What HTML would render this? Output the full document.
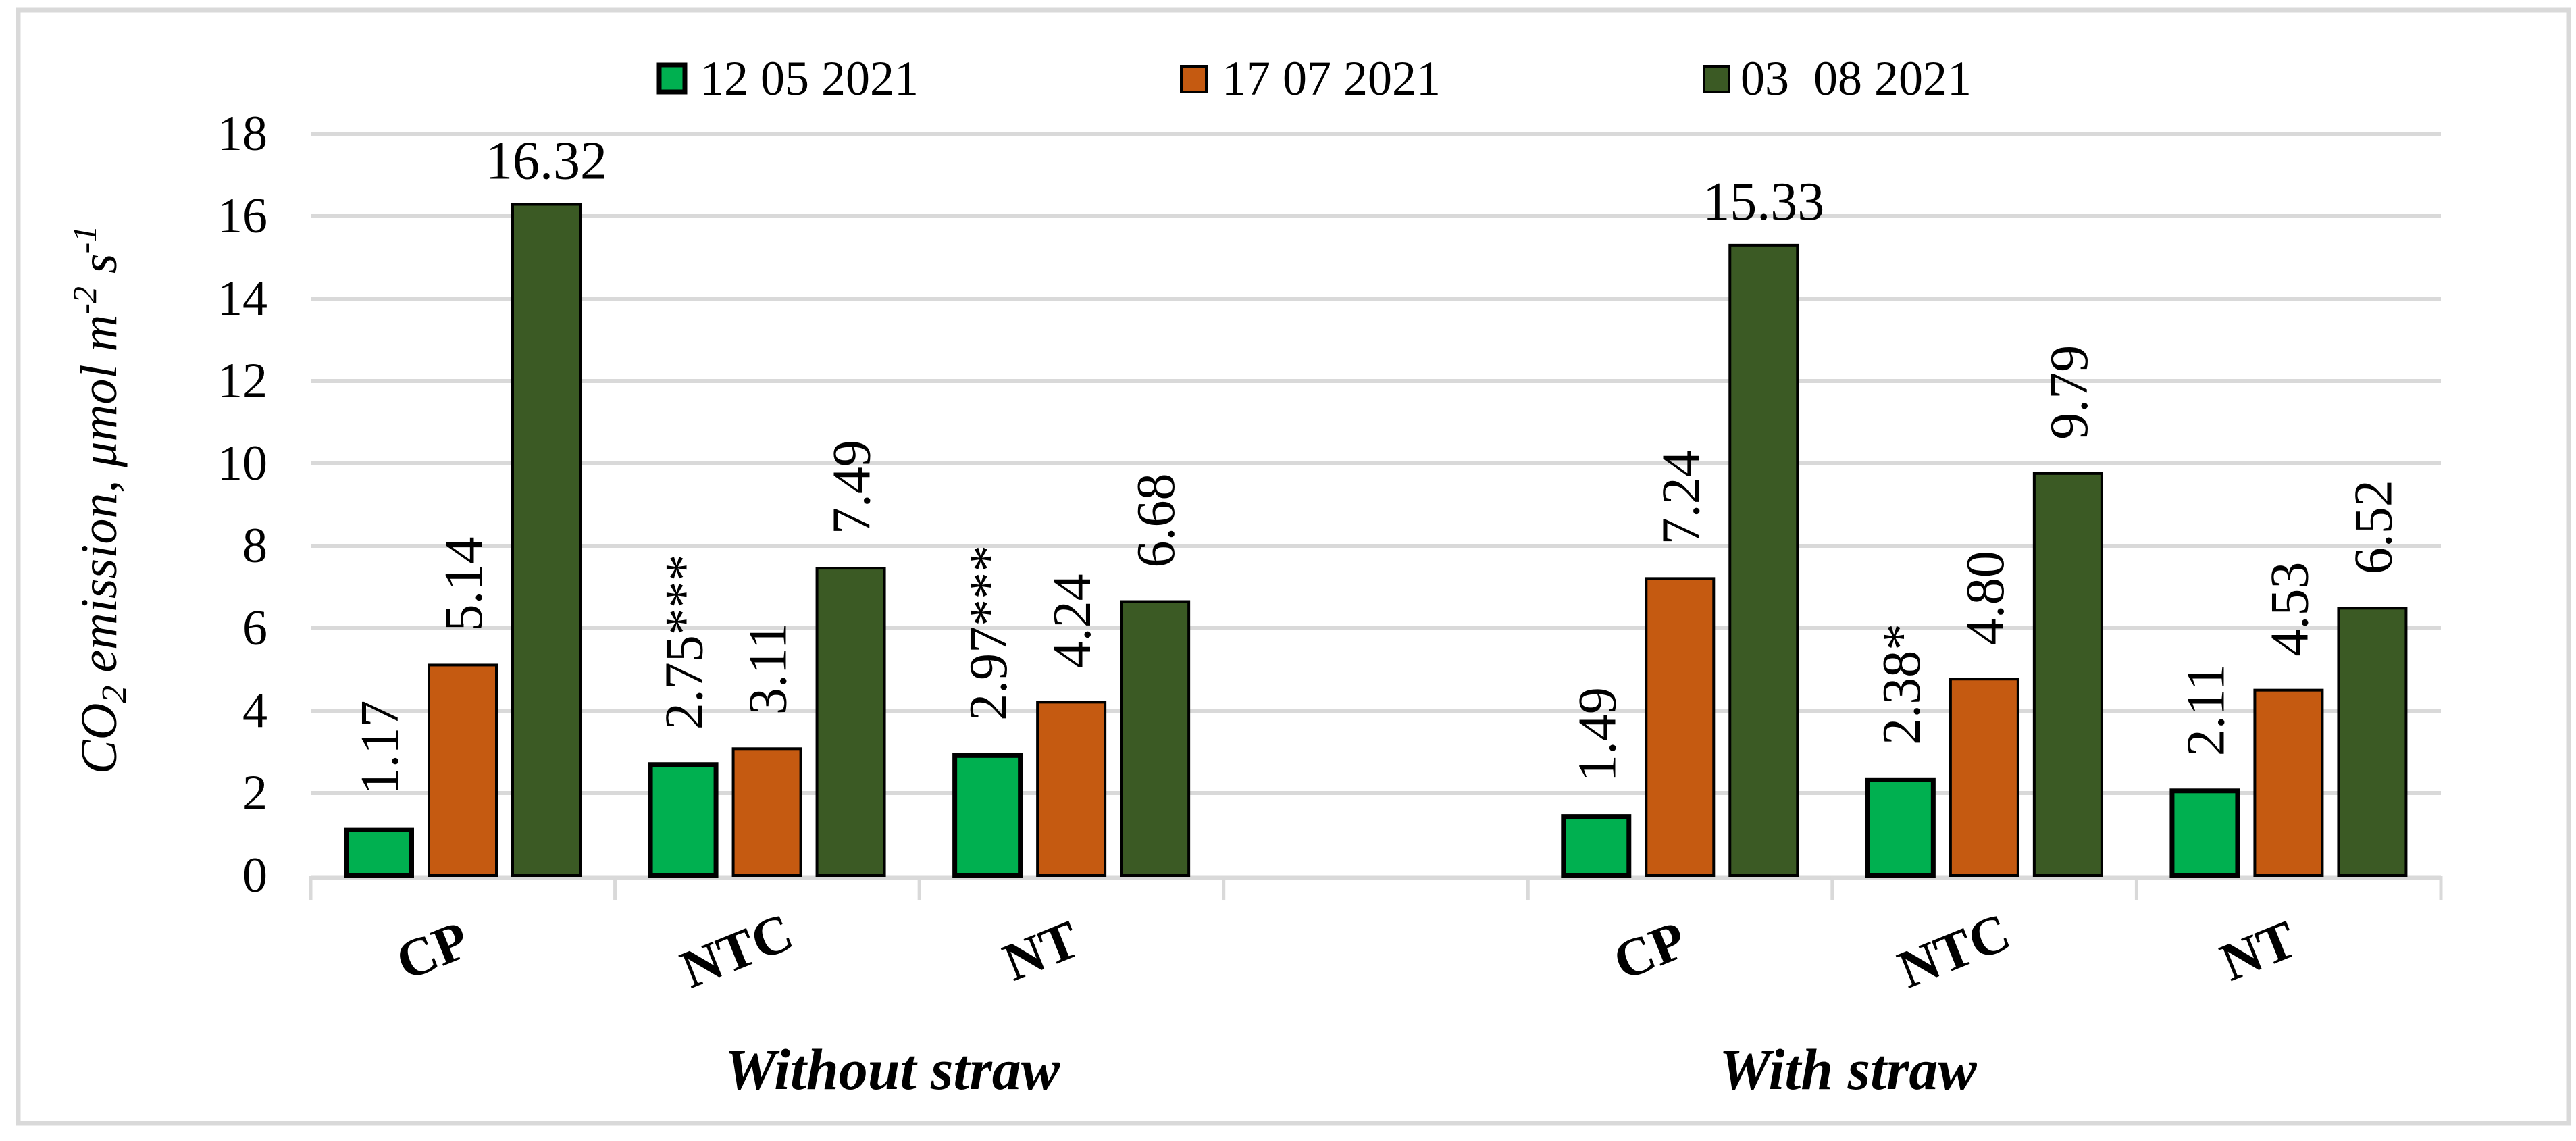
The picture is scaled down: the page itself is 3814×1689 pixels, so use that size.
<!DOCTYPE html>
<html><head><meta charset="utf-8"><style>
html,body{margin:0;padding:0;background:#fff;}
svg{display:block;}
svg text, svg tspan{font-family:"Liberation Serif","Times New Roman",Times,"Nimbus Roman","DejaVu Serif",serif;}
</style></head><body>
<svg id="chart" width="3814" height="1689" viewBox="0 0 3814 1689" xmlns="http://www.w3.org/2000/svg" font-family="'Liberation Serif', 'Times New Roman', Times, serif">
<rect x="27" y="15" width="3776" height="1648" fill="#fff" stroke="#d9d9d9" stroke-width="7"/>
<g id="grid"></g>
<g id="bars"></g>
<g id="labels"></g>
<text transform="translate(172,740) rotate(-90)" text-anchor="middle" font-size="76" font-style="italic">CO<tspan font-size="52" dy="14">2</tspan><tspan dy="-14"> emission, μmol m</tspan><tspan font-size="50" dy="-30">-2</tspan><tspan dy="30"> s</tspan><tspan font-size="50" dy="-30">-1</tspan></text>
<g font-size="72">
<rect x="976" y="96" width="38" height="40" fill="#00b050" stroke="#000" stroke-width="7"/>
<text x="1036" y="140">12 05 2021</text>
<rect x="1749" y="98" width="37" height="38" fill="#c55a11" stroke="#000" stroke-width="4"/>
<text x="1809" y="140">17 07 2021</text>
<rect x="2523" y="98" width="37" height="38" fill="#3b5a24" stroke="#000" stroke-width="4"/>
<text x="2577" y="140" xml:space="preserve">03  08 2021</text>
</g>
<text x="1321" y="1612" text-anchor="middle" font-size="86" font-weight="bold" font-style="italic">Without straw</text>
<text x="2736" y="1612" text-anchor="middle" font-size="86" font-weight="bold" font-style="italic">With straw</text>
</svg>
<script>
const categories = ["CP","NTC","NT","","CP","NTC","NT"];
const series12May = [1.17, 2.75, 2.97, null, 1.49, 2.38, 2.11];
const series17Jul = [5.14, 3.11, 4.24, null, 7.24, 4.80, 4.53];
const series03Aug = [16.32, 7.49, 6.68, null, 15.33, 9.79, 6.52];
const labels12May = ["1.17","2.75***","2.97***","","1.49","2.38*","2.11"];
const labels17Jul = ["5.14","3.11","4.24","","7.24","4.80","4.53"];
const labels03Aug = ["16.32","7.49","6.68","","15.33","9.79","6.52"];
const yTicks = [0,2,4,6,8,10,12,14,16,18];

const NS="http://www.w3.org/2000/svg";
const plotL=460, plotR=3614, y0=1296, unit=61;
const catW=(plotR-plotL)/categories.length;
const yScale=v=>y0-v*unit;
const xCat=i=>plotL+i*catW;
function mk(tag,attrs,parent){const e=document.createElementNS(NS,tag);for(const k in attrs)e.setAttribute(k,attrs[k]);parent.appendChild(e);return e;}
const grid=document.getElementById('grid'), bars=document.getElementById('bars'), labels=document.getElementById('labels');

yTicks.forEach(t=>{
  if(t>0){
    const l=mk('line',{x1:plotL,x2:plotR,y1:yScale(t),y2:yScale(t),stroke:'#d9d9d9','stroke-width':6},grid);
    
    
  }
  const tx=mk('text',{x:396,y:yScale(t)+24,'text-anchor':'end','font-size':74},labels);
  tx.textContent=t;
  
  
});
const ax=mk('line',{x1:plotL,x2:plotR,y1:y0+3,y2:y0+3,stroke:'#d9d9d9','stroke-width':7},grid);


for(let i=0;i<=categories.length;i++){
  const tk=mk('line',{x1:xCat(i),x2:xCat(i),y1:y0,y2:y0+36,stroke:'#d9d9d9','stroke-width':5},grid);
  
  
}
const seriesList=[
  {vals:series12May,labs:labels12May,fill:'#00b050',sw:7,name:'12-05-2021'},
  {vals:series17Jul,labs:labels17Jul,fill:'#c55a11',sw:4,name:'17-07-2021'},
  {vals:series03Aug,labs:labels03Aug,fill:'#3b5a24',sw:4,name:'03-08-2021'}
];
const barW=104, step=124, off=49;
categories.forEach((c,i)=>{
  if(c){
    const cx=xCat(i)+catW/2;
    const ct=mk('text',{transform:`translate(${cx-35},${1432}) rotate(-22)`,'text-anchor':'middle','font-size':80,'font-weight':'bold'},labels);
    ct.textContent=c;
    
    
  }
  seriesList.forEach((s,j)=>{
    const v=s.vals[i];
    if(v==null) return;
    const x=xCat(i)+off+j*step, y=yScale(v);
    const r=mk('rect',{x:x+s.sw/2,y:y+s.sw/2,width:barW-s.sw,height:y0-y-s.sw/2,fill:s.fill,stroke:'#000','stroke-width':s.sw},bars);
    
    
    let t;
    if(v>12){
      t=mk('text',{x:x+barW/2,y:y-36,'text-anchor':'middle','font-size':80},labels);
    } else {
      t=mk('text',{transform:`translate(${x+barW/2+28},${y-48}) rotate(-90)`,'text-anchor':'start','font-size':80},labels);
    }
    t.textContent=s.labs[i];
    
    
  });
});
</script>
</body></html>
